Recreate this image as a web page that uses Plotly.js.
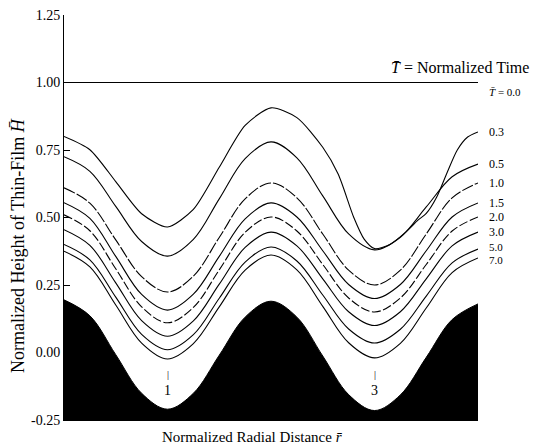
<!DOCTYPE html>
<html>
<head>
<meta charset="utf-8">
<script src="https://cdn.plot.ly/plotly-3.0.1.min.js"></script>
<style>html,body{margin:0;padding:0;background:#fff;}#chart{width:540px;height:447px;}</style>
</head>
<body>
<div id="chart"></div>
<script>
// Normalized radial distance sample points
const xGrid = [0,0.25,0.5,0.75,1,1.25,1.5,1.75,2,2.25,2.5,2.75,3,3.25,3.5,3.75,4];
// Substrate (black region top)
const substrate = [0.195,0.136,-0.008,-0.151,-0.21,-0.151,-0.01,0.131,0.19,0.131,-0.013,-0.156,-0.215,-0.157,-0.018,0.122,0.18];
// Film height at T = 0.0
const xFlat = [0,4];
const h00 = [1.0,1.0];
// Film height at T = 0.3 (own x points, merges with 0.5 near r = 3)
const x03 = [0,0.25,0.5,0.75,1,1.25,1.5,1.75,2,2.25,2.5,2.65,2.8,2.9,3,3.15,3.3,3.42,3.5,3.6,3.7,3.8,3.9,4];
const h03 = [0.80,0.751,0.633,0.514,0.465,0.53,0.686,0.841,0.906,0.87,0.76,0.66,0.50,0.42,0.385,0.40,0.445,0.49,0.515,0.575,0.665,0.75,0.798,0.817];
// Film heights at later times on xGrid
const h05 = [0.725,0.671,0.541,0.411,0.357,0.419,0.569,0.718,0.78,0.721,0.58,0.439,0.38,0.427,0.539,0.651,0.698];
const h10 = [0.61,0.553,0.417,0.281,0.224,0.283,0.426,0.569,0.628,0.573,0.439,0.305,0.25,0.305,0.439,0.573,0.628];
const h15 = [0.555,0.497,0.356,0.215,0.157,0.216,0.356,0.495,0.554,0.502,0.377,0.252,0.2,0.252,0.377,0.502,0.554];
const h20 = [0.51,0.451,0.31,0.169,0.11,0.167,0.306,0.445,0.502,0.45,0.326,0.202,0.15,0.202,0.326,0.45,0.502];
const h30 = [0.455,0.397,0.258,0.118,0.06,0.117,0.253,0.389,0.446,0.395,0.273,0.151,0.1,0.151,0.273,0.395,0.446];
const h50 = [0.4,0.343,0.205,0.067,0.01,0.066,0.201,0.335,0.391,0.339,0.213,0.087,0.035,0.086,0.209,0.332,0.383];
const h70 = [0.375,0.317,0.176,0.035,-0.024,0.033,0.169,0.305,0.361,0.306,0.171,0.036,-0.02,0.034,0.165,0.296,0.35];
// Time labels (right side)
const timeLabels = ['0.3','0.5','1.0','1.5','2.0','3.0','5.0','7.0'];
const timeLabelY = [0.817,0.698,0.628,0.554,0.502,0.446,0.39,0.343];
const timeLabelSize = [12,12,12,12,12,12,11,11];
// Y ticks
const yTicks = [-0.25,0,0.25,0.5,0.75,1.0,1.25];
const yTickText = ['-0.25','0.00','0.25','0.50','0.75','1.00','1.25'];
// Trough markers
const troughX = [1,3];
const troughText = ['1','3'];

const FONT = 'Liberation Serif, Times New Roman, serif';
const line = (dash) => ({color:'#000', width:1.1, shape:'spline', smoothing:1, dash: dash || 'solid'});

const traces = [
  {x:[0,4], y:[-0.25,-0.25], mode:'lines', line:{width:0,color:'#000'}, hoverinfo:'skip', showlegend:false},
  {x:xGrid, y:substrate, mode:'lines', fill:'tonexty', fillcolor:'#000', line:{color:'#000',width:1,shape:'spline',smoothing:1}, showlegend:false},
  {x:xFlat, y:h00, mode:'lines', line:line(), showlegend:false},
  {x:x03, y:h03, mode:'lines', line:Object.assign(line(),{smoothing:0.7}), showlegend:false},
  {x:xGrid, y:h05, mode:'lines', line:line(), showlegend:false},
  {x:xGrid, y:h10, mode:'lines', line:line('12px,2px'), showlegend:false},
  {x:xGrid, y:h15, mode:'lines', line:line(), showlegend:false},
  {x:xGrid, y:h20, mode:'lines', line:line('9px,2.5px'), showlegend:false},
  {x:xGrid, y:h30, mode:'lines', line:line(), showlegend:false},
  {x:xGrid, y:h50, mode:'lines', line:line(), showlegend:false},
  {x:xGrid, y:h70, mode:'lines', line:line(), showlegend:false}
];

const annotations = [];
timeLabels.forEach((t,i)=>{
  annotations.push({xref:'paper', yref:'y', x:1.022, y:timeLabelY[i], text:t, showarrow:false,
    xanchor:'left', yanchor:'middle', font:{family:FONT, size:timeLabelSize[i], color:'#000'}});
});
annotations.push({xref:'paper', yref:'y', x:1.022, y:0.965, text:'<i>T\u0304</i> = 0.0', showarrow:false,
  xanchor:'left', yanchor:'middle', font:{family:FONT, size:11, color:'#000'}});
annotations.push({xref:'paper', yref:'y', x:0.785, y:1.054, text:'<i>T\u0304</i> = Normalized Time', showarrow:false,
  xanchor:'left', yanchor:'middle', font:{family:FONT, size:16, color:'#000'}});
troughX.forEach((xv,i)=>{
  annotations.push({xref:'x', yref:'y', x:xv, y:-0.08, text:'|', showarrow:false,
    xanchor:'center', yanchor:'middle', font:{family:FONT, size:10, color:'#000'}});
  annotations.push({xref:'x', yref:'y', x:xv, y:-0.14, text:troughText[i], showarrow:false,
    xanchor:'center', yanchor:'middle', font:{family:FONT, size:14, color:'#000'}});
});
// Axis titles
annotations.push({xref:'paper', yref:'paper', x:0.454, y:-0.042, text:'Normalized Radial Distance <i>r\u0304</i>',
  showarrow:false, xanchor:'center', yanchor:'middle', font:{family:FONT, size:15, color:'#000'}});
annotations.push({xref:'paper', yref:'paper', x:-0.111, y:0.43, text:'Normalized Height of Thin-Film <i>H\u0304</i>',
  showarrow:false, textangle:-90, xanchor:'center', yanchor:'middle', font:{family:FONT, size:18, color:'#000'}});

const layout = {
  width:540, height:447,
  margin:{l:64, r:62, t:15, b:27},
  paper_bgcolor:'#fff', plot_bgcolor:'#fff',
  font:{family:FONT, color:'#000'},
  showlegend:false,
  xaxis:{range:[0,4], showgrid:false, zeroline:false, showticklabels:false, ticks:'',
    showline:true, linecolor:'#000', linewidth:1},
  yaxis:{range:[-0.25,1.25], showgrid:false, zeroline:false, tickvals:yTicks, ticktext:yTickText,
    ticks:'inside', ticklen:6, tickcolor:'#000', showline:true, linecolor:'#000', linewidth:1,
    tickfont:{family:FONT, size:14, color:'#000'}},
  annotations:annotations
};

Plotly.newPlot('chart', traces, layout, {displayModeBar:false, staticPlot:true});
</script>
</body>
</html>
